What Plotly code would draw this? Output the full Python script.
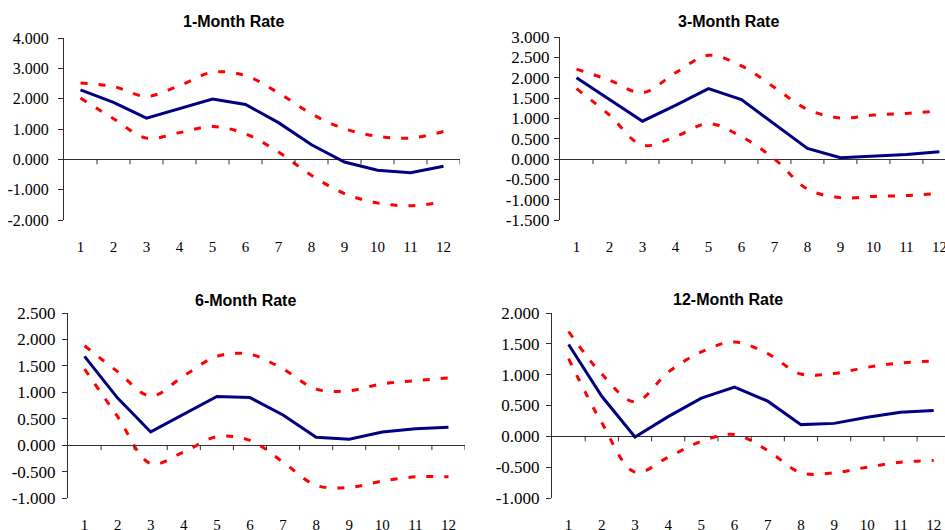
import plotly.graph_objects as go

# ---------------- data ----------------
categories = list(range(1, 13))

titles = ["1-Month Rate", "3-Month Rate", "6-Month Rate", "12-Month Rate"]

m1_irf = [2.29, 1.88, 1.36, 1.67, 1.99, 1.81, 1.21, 0.48, -0.09, -0.36, -0.44, -0.23]
m1_upper = [2.52, 2.40, 2.08, 2.43, 2.87, 2.76, 2.19, 1.50, 1.01, 0.76, 0.70, 0.92]
m1_lower = [2.02, 1.34, 0.70, 0.88, 1.08, 0.84, 0.24, -0.53, -1.13, -1.44, -1.53, -1.40]

m3_irf = [2.00, 1.47, 0.93, 1.32, 1.73, 1.46, 0.87, 0.26, 0.03, 0.07, 0.11, 0.18]
m3_upper = [2.21, 1.94, 1.63, 2.12, 2.55, 2.29, 1.76, 1.22, 1.01, 1.08, 1.12, 1.18]
m3_lower = [1.73, 1.08, 0.34, 0.55, 0.87, 0.55, 0.00, -0.74, -0.95, -0.92, -0.90, -0.84]

m6_irf = [1.68, 0.89, 0.25, 0.59, 0.92, 0.90, 0.57, 0.15, 0.11, 0.25, 0.31, 0.34]
m6_upper = [1.88, 1.39, 0.93, 1.31, 1.68, 1.72, 1.44, 1.06, 1.03, 1.16, 1.22, 1.27]
m6_lower = [1.44, 0.54, -0.35, -0.13, 0.16, 0.09, -0.32, -0.76, -0.80, -0.68, -0.60, -0.60]

m12_irf = [1.49, 0.65, -0.01, 0.32, 0.62, 0.80, 0.57, 0.19, 0.21, 0.31, 0.39, 0.42]
m12_upper = [1.70, 1.01, 0.56, 1.04, 1.37, 1.53, 1.34, 1.01, 1.02, 1.12, 1.19, 1.22]
m12_lower = [1.26, 0.22, -0.58, -0.34, -0.08, 0.03, -0.23, -0.59, -0.59, -0.50, -0.42, -0.39]

y_ticks_1 = [-2.0, -1.0, 0.0, 1.0, 2.0, 3.0, 4.0]
y_ticks_3 = [-1.5, -1.0, -0.5, 0.0, 0.5, 1.0, 1.5, 2.0, 2.5, 3.0]
y_ticks_6 = [-1.0, -0.5, 0.0, 0.5, 1.0, 1.5, 2.0, 2.5]
y_ticks_12 = [-1.0, -0.5, 0.0, 0.5, 1.0, 1.5, 2.0]

series = [
    (m1_irf, m1_upper, m1_lower, y_ticks_1),
    (m3_irf, m3_upper, m3_lower, y_ticks_3),
    (m6_irf, m6_upper, m6_lower, y_ticks_6),
    (m12_irf, m12_upper, m12_lower, y_ticks_12),
]

# ---------------- layout geometry (pixels) ----------------
W, H = 945, 530
# left, right, top, bottom, x-range end, title centre x, title centre y, ytick font size, ytick standoff
boxes = [
    (64, 460, 38, 220, 12.5, 233, 22, 16, 6),
    (560, 945, 37, 220, 12.17, 728, 22, 17, 1),
    (68, 465, 313, 498, 12.5, 245, 300, 17, 3),
    (552, 945, 313, 498, 12.34, 728, 299, 17, 3),
]

AXC = "#303030"
fig = go.Figure()
layout = dict(
    width=W, height=H, margin=dict(l=0, r=0, t=0, b=0, autoexpand=False),
    paper_bgcolor="white", plot_bgcolor="white", showlegend=False,
    annotations=[], shapes=[],
)

for i, ((irf, up, lo, yt), (l, r, t, b, xend, tx, ty, yfs, ystand)) in enumerate(zip(series, boxes), start=1):
    xa = "x" if i == 1 else f"x{i}"
    ya = "y" if i == 1 else f"y{i}"
    for vals in (up, lo):
        fig.add_trace(go.Scatter(
            x=categories, y=vals, xaxis=xa, yaxis=ya, mode="lines",
            line=dict(color="#FF0000", width=3, dash="7px,11px", shape="spline", smoothing=1.0),
            hoverinfo="skip", cliponaxis=False))
    fig.add_trace(go.Scatter(
        x=categories, y=irf, xaxis=xa, yaxis=ya, mode="lines",
        line=dict(color="#000080", width=3), hoverinfo="skip", cliponaxis=False))

    ymin, ymax = yt[0], yt[-1]
    ydom = [1 - b / H, 1 - t / H]
    xdom = [l / W, r / W]

    layout[f"xaxis{i}"] = dict(
        domain=xdom, range=[0.5, xend], anchor=ya, automargin=False,
        tickvals=categories, ticktext=[str(c) for c in categories],
        showline=False, ticks="", showgrid=False, zeroline=False,
        tickfont=dict(family="Liberation Serif", size=15, color="black"),
        ticklabelstandoff=16, ticklabeloverflow="allow",
    )
    layout[f"yaxis{i}"] = dict(
        domain=ydom, range=[ymin, ymax], anchor=xa, automargin=False,
        tickvals=yt, ticktext=[f"{v:.3f}" for v in yt],
        showline=True, linecolor=AXC, linewidth=1,
        ticks="outside", ticklen=5, tickcolor=AXC, tickwidth=1,
        showgrid=False, zeroline=True, zerolinecolor=AXC, zerolinewidth=1,
        tickfont=dict(family="Liberation Serif", size=yfs, color="black"),
        ticklabelstandoff=ystand,
    )
    # category-boundary tick marks hanging below the zero line
    for c in categories:
        bx = c + 0.5
        if bx <= xend:
            layout["shapes"].append(dict(
                type="line", xref=xa, yref=ya, ysizemode="pixel", yanchor=0,
                x0=bx, x1=bx, y0=0, y1=-5, line=dict(color=AXC, width=1)))
    layout["annotations"].append(dict(
        text=f"<b>{titles[i - 1]}</b>", xref="paper", yref="paper",
        x=tx / W, y=1 - ty / H, xanchor="center", yanchor="middle",
        showarrow=False, font=dict(family="Liberation Sans", size=16, color="black")))

fig.update_layout(**layout)
fig.write_html(
    "out.html",
    config={"displayModeBar": False, "staticPlot": True},
    post_script="document.body.style.margin='0';document.body.style.overflow='hidden';",
)
